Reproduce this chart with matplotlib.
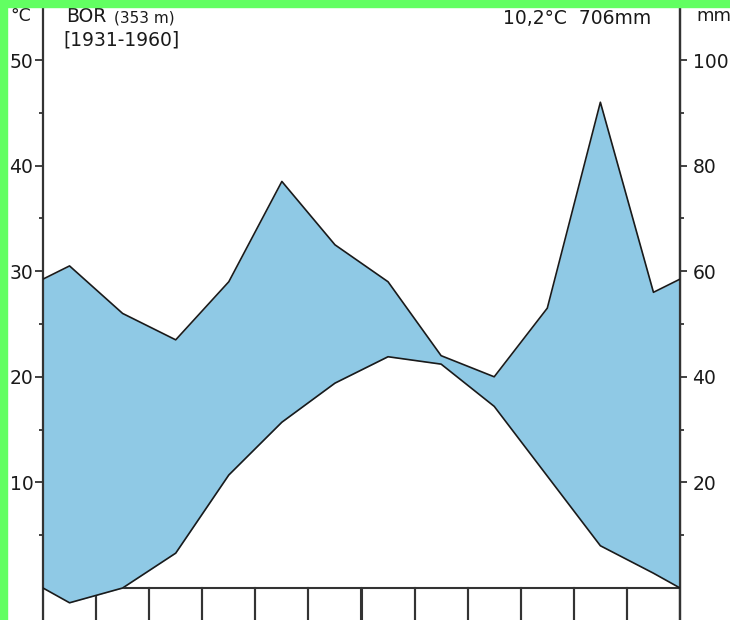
"""Walter-Lieth style climate diagram for BOR (353 m), 1931-1960."""
import numpy as np
import matplotlib

matplotlib.use("Agg")
import matplotlib.pyplot as plt
from matplotlib.patches import Rectangle

# monthly means, Jan..Dec
months = ["J", "F", "M", "A", "M", "J", "J", "A", "S", "O", "N", "D"]
temp_c = [-1.4, 0.0, 3.3, 10.7, 15.7, 19.4, 21.9, 21.2, 17.2, 10.6, 4.0, 1.4]
precip_mm = [61, 52, 47, 58, 77, 65, 58, 44, 40, 53, 92, 56]

station = "BOR"
altitude = "(353 m)"
period = "[1931-1960]"
annual = "10,2°C  706mm"

temp_ticks = [10, 20, 30, 40, 50]
precip_ticks = [20, 40, 60, 80, 100]

W, H = 730, 620
FILL = "#8fc9e5"
INK = "#1a1a1a"
AXC = "#333333"
GREEN = "#62ff62"

# mid-month positions, closed at the year edges with the Dec/Jan mean
x = np.concatenate([[0], np.arange(len(months)) + 0.5, [len(months)]])
t = np.asarray(temp_c, float)
p = np.asarray(precip_mm, float) / 2.0  # 20 mm = 10 °C
t_edge = (t[0] + t[-1]) / 2
p_edge = (p[0] + p[-1]) / 2
t = np.concatenate([[t_edge], t, [t_edge]])
p = np.concatenate([[p_edge], p, [p_edge]])

fig = plt.figure(figsize=(W / 100, H / 100), dpi=100, facecolor="white")
ax = fig.add_axes([43 / W, 0, 637 / W, 1])
ax.set_xlim(0, len(months))
ax.set_ylim(-32 / 10.56, 588 / 10.56)

# month boxes under the zero line
for i in range(len(months)):
    ax.add_patch(Rectangle((i, -3.5), 1, 3.5, fill=False, ec=AXC,
                           lw=1.5, zorder=1))

ax.fill_between(x, t, p, color=FILL, lw=0, zorder=2)
ax.plot(x, p, color=INK, lw=1.2, zorder=3)
ax.plot(x, t, color=INK, lw=1.2, zorder=3)

for side in ("top", "bottom"):
    ax.spines[side].set_visible(False)
for side in ("left", "right"):
    ax.spines[side].set_color(AXC)
    ax.spines[side].set_linewidth(1.6)

ax.set_xticks([])
ax.set_yticks(temp_ticks)
ax.set_yticks([5, 15, 25, 35, 45], minor=True)
ax.tick_params(axis="y", which="major", length=6, width=1.3, color=AXC,
               labelsize=13.5, labelcolor=INK, pad=1)
ax.tick_params(axis="y", which="minor", length=3, width=1.3, color=AXC)

sec = ax.secondary_yaxis("right", functions=(lambda v: v * 2, lambda v: v / 2))
sec.spines["right"].set_color(AXC)
sec.spines["right"].set_linewidth(1.6)
sec.set_yticks(precip_ticks)
sec.set_yticks([10, 30, 50, 70, 90], minor=True)
sec.tick_params(axis="y", which="major", length=5, width=1.3, color=AXC,
                labelsize=13.5, labelcolor=INK, pad=4)
sec.tick_params(axis="y", which="minor", length=3, width=1.3, color=AXC)


def fx(px):
    return px / W


def fy(py):
    return 1 - py / H


fig.text(fx(10), fy(16), "°C", fontsize=12.5, color=INK, va="center")
fig.text(fx(696), fy(16), "mm", fontsize=13, color=INK, va="center")
fig.text(fx(66), fy(17), station, fontsize=13.5, color=INK, va="center")
fig.text(fx(114), fy(18), altitude, fontsize=11, color=INK, va="center")
fig.text(fx(63), fy(40), period, fontsize=13.5, color=INK, va="center")
fig.text(fx(503), fy(18), annual, fontsize=13.5, color=INK, va="center")

# green frame along the top and left edges
fig.patches.append(Rectangle((0, fy(7)), 1, 7 / H, transform=fig.transFigure,
                             color=GREEN, zorder=10))
fig.patches.append(Rectangle((0, 0), 7 / W, 1, transform=fig.transFigure,
                             color=GREEN, zorder=10))

fig.savefig("out.png", dpi=100, facecolor="white")
